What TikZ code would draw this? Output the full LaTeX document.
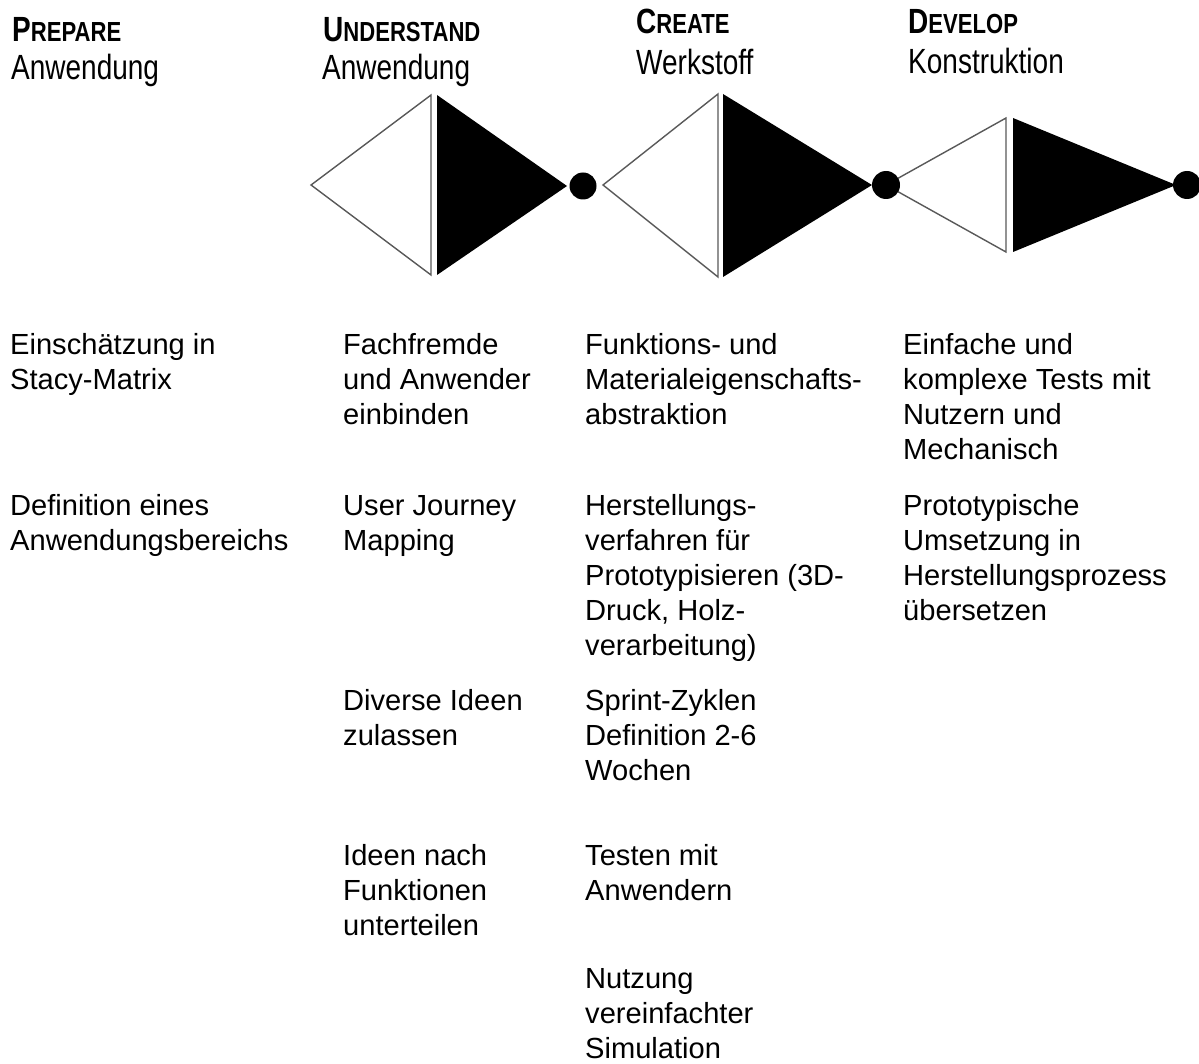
\documentclass[tikz,border=0pt]{standalone}
\usepackage{fontspec}
\setmainfont{Liberation Sans}
\newfontfamily\narrowfont[FakeStretch=0.8]{Liberation Sans}
\usetikzlibrary{positioning}

% header styles: faked small caps in a condensed face
\newcommand{\phase}[2]{{\narrowfont\bfseries\fontsize{35}{40}\selectfont #1{\fontsize{27.6}{30}\selectfont #2}}}
\newcommand{\block}[1]{\begin{tabular}[t]{@{}l@{}}#1\end{tabular}}

\begin{document}
\begin{tikzpicture}[x=1pt,y=-1pt,
  title/.style={anchor=base west,inner sep=0pt},
  subtitle/.style={anchor=base west,inner sep=0pt,font=\narrowfont\fontsize{35}{40}\selectfont},
  item/.style={anchor=base west,inner sep=0pt,font=\fontsize{29.1}{35}\selectfont},
  open/.style={fill=white,draw=black!65,line width=1.4pt,line join=miter},
  solid/.style={fill=black,draw=none},
  joint/.style={fill=black,draw=none}]
\useasboundingbox (0,0) rectangle (1199,1064);

% phase headings
\node[title] (hPrep) at (12,42) {\phase{P}{REPARE}};
\node[subtitle] (sPrep) at (11,80) {Anwendung};
\node[title] (hUnd) at (323,42) {\phase{U}{NDERSTAND}};
\node[subtitle] (sUnd) at (322,80) {Anwendung};
\node[title] (hCre) at (636,34) {\phase{C}{REATE}};
\node[subtitle] (sCre) at (636,75) {Werkstoff};
\node[title] (hDev) at (908,34) {\phase{D}{EVELOP}};
\node[subtitle] (sDev) at (908,74) {Konstruktion};

% diverge / converge triangles
\draw[open]  (311,185) -- (431,95) -- (431,275) -- cycle;
\draw[solid] (437,95) -- (437,275) -- (567,186) -- cycle;
\draw[open]  (603,185) -- (718,94) -- (718,277) -- cycle;
\draw[solid] (723,94) -- (723,277) -- (872,185) -- cycle;
\draw[open]  (886,185) -- (1006,118) -- (1006,252) -- cycle;
\draw[solid] (1013,118) -- (1013,252) -- (1176,185) -- cycle;

% milestones
\fill[joint] (583,186) circle (13.5);
\fill[joint] (886,185) circle (14);
\fill[joint] (1187,185) circle (14);

% prepare column
\node[item] (p1) at (10,355) {\block{Einschätzung in\\Stacy-Matrix}};
\node[item] (p2) at (10,515) {\block{Definition eines\\Anwendungsbereichs}};

% understand column
\node[item] (u1) at (343,355) {\block{Fachfremde\\und Anwender\\einbinden}};
\node[item] (u2) at (343,515) {\block{User Journey\\Mapping}};
\node[item] (u3) at (343,710) {\block{Diverse Ideen\\zulassen}};
\node[item] (u4) at (343,865) {\block{Ideen nach\\Funktionen\\unterteilen}};

% create column
\node[item] (c1) at (585,355) {\block{Funktions- und\\Materialeigenschafts-\\abstraktion}};
\node[item] (c2) at (585,515) {\block{Herstellungs-\\verfahren für\\Prototypisieren (3D-\\Druck, Holz-\\verarbeitung)}};
\node[item] (c3) at (585,710) {\block{Sprint-Zyklen\\Definition 2-6\\Wochen}};
\node[item] (c4) at (585,865) {\block{Testen mit\\Anwendern}};
\node[item] (c5) at (585,988) {\block{Nutzung\\vereinfachter\\Simulation}};

% develop column
\node[item] (d1) at (903,355) {\block{Einfache und\\komplexe Tests mit\\Nutzern und\\Mechanisch}};
\node[item] (d2) at (903,515) {\block{Prototypische\\Umsetzung in\\Herstellungsprozess\\übersetzen}};
\end{tikzpicture}
\end{document}
